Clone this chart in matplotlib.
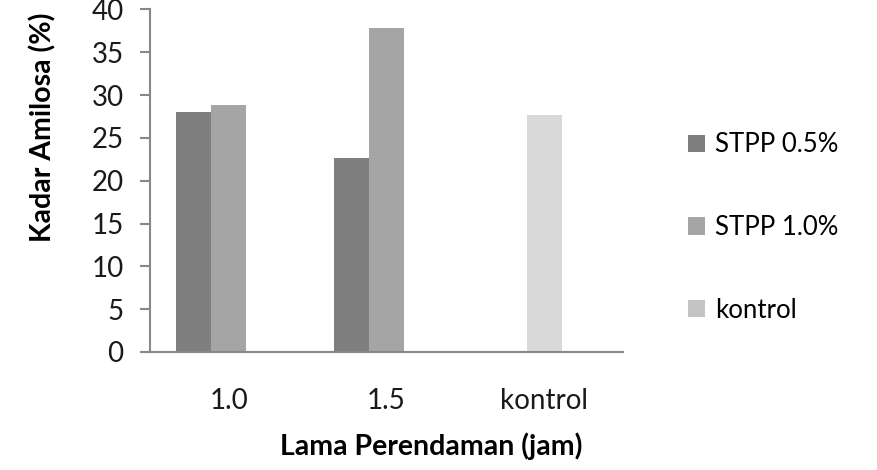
import numpy as np
import matplotlib
matplotlib.use("Agg")
import matplotlib.pyplot as plt
from matplotlib.patches import Patch

plt.rcParams['font.family'] = ['Lato', 'DejaVu Sans']

# data
categories = ["1.0", "1.5", "kontrol"]
series_names = ["STPP 0.5%", "STPP 1.0%", "kontrol"]
stpp_05 = [28.0, 22.7, np.nan]
stpp_10 = [28.8, 37.8, np.nan]
kontrol = [np.nan, np.nan, 27.7]
yticks = [0, 5, 10, 15, 20, 25, 30, 35, 40]

colors = ["#7f7f7f", "#a5a5a5", "#d9d9d9"]
legend_colors = ["#7f7f7f", "#a5a5a5", "#c4c4c4"]
width = 0.222
offsets = [-width, 0.0, 0.0]

fig = plt.figure(figsize=(8.78, 4.70), dpi=100)
ax = fig.add_axes([0.1708, 0.2511, 0.7096 - 0.1708, 0.9798 - 0.2511])

x = np.arange(len(categories))
for vals, off, c in zip([stpp_05, stpp_10, kontrol], offsets, colors):
    ax.bar(x + off, vals, width=width, color=c, align='center')

ax.set_xlim(-0.5, 2.5)
ax.set_ylim(0, 40)
ax.set_yticks(yticks)
ax.set_xticks(x)
ax.set_xticklabels(categories)

for s in ["top", "right"]:
    ax.spines[s].set_visible(False)
for s in ["left", "bottom"]:
    ax.spines[s].set_color("#888888")
    ax.spines[s].set_linewidth(1.5)

ax.tick_params(axis='y', length=7, width=1.5, color="#888888",
               labelsize=20, pad=12, labelcolor="#1a1a1a")
ax.tick_params(axis='x', length=0, labelsize=20, pad=26, labelcolor="#1a1a1a")

fig.text(431 / 878, 1 - 446 / 470, "Lama Perendaman (jam)", ha='center',
         va='center', fontsize=20.5, fontweight='bold')
fig.text(43 / 878, 1 - 127 / 470, "Kadar Amilosa (%)", ha='center',
         va='center', rotation=90, fontsize=20.5, fontweight='bold')

handles = [Patch(facecolor=c, edgecolor='none') for c in legend_colors]
fig.legend(handles, series_names, loc='upper left',
           bbox_to_anchor=(678 / 878, 1 - 122 / 470), frameon=False,
           fontsize=18.5, handlelength=0.65, handleheight=0.65,
           handletextpad=0.4, labelspacing=2.25, borderaxespad=0)

fig.savefig("out.png", dpi=100)
